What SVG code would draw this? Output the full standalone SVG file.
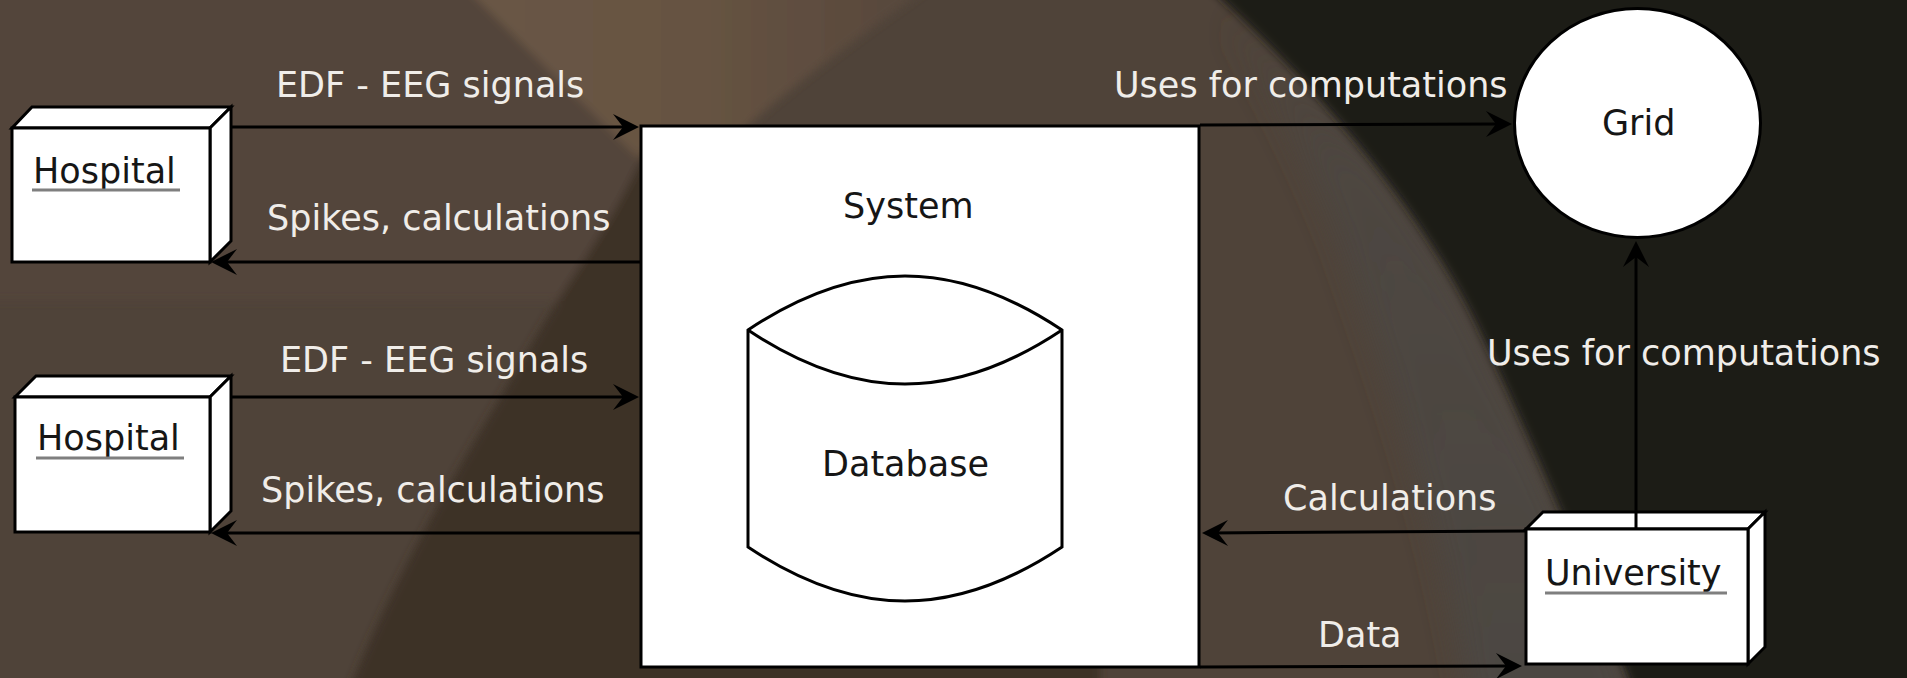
<svg xmlns="http://www.w3.org/2000/svg" width="1907" height="678" viewBox="0 0 1907 678">
  <defs>
    <style>
      .lbl { font-family: "DejaVu Sans", Verdana, sans-serif; font-size: 35px; fill: #f0ede9; }
      .nlbl { font-family: "DejaVu Sans", Verdana, sans-serif; font-size: 35px; fill: #161616; }
      .shape { fill: #ffffff; stroke: #000000; stroke-width: 3; stroke-linejoin: miter; }
      .ul { stroke: #7f7f7f; stroke-width: 3; }
      .conn { stroke: #000000; stroke-width: 3; fill: none; marker-end: url(#arrow); }
    </style>
    <!-- barbed arrowhead; the tip sits 8px beyond the end of the line -->
    <marker id="arrow" markerUnits="userSpaceOnUse" viewBox="-20 -15 30 30" refX="0" refY="0"
            markerWidth="30" markerHeight="30" orient="auto">
      <path d="M8,0 L-18,-13 L-8,0 L-18,13 Z" fill="#000000"/>
    </marker>
    <linearGradient id="wedgeFill" x1="430" y1="0" x2="980" y2="0" gradientUnits="userSpaceOnUse">
      <stop offset="0" stop-color="#6a5746"/>
      <stop offset="0.5" stop-color="#665342"/>
      <stop offset="1" stop-color="#52443a"/>
    </linearGradient>
    <linearGradient id="bandFill" x1="0" y1="0" x2="0" y2="678" gradientUnits="userSpaceOnUse">
      <stop offset="0" stop-color="#4c4742" stop-opacity="0"/>
      <stop offset="0.25" stop-color="#4c4742" stop-opacity="0.8"/>
      <stop offset="1" stop-color="#4c4742" stop-opacity="1"/>
    </linearGradient>
    <filter id="soft" x="-20%" y="-20%" width="140%" height="140%">
      <feGaussianBlur stdDeviation="4"/>
    </filter>
    <filter id="haze" x="-30%" y="-30%" width="160%" height="160%">
      <feGaussianBlur stdDeviation="14"/>
    </filter>
  </defs>

  <!-- wallpaper backdrop -->
  <g id="backdrop">
    <rect x="0" y="0" width="1907" height="678" fill="#4f4339"/>
    <g filter="url(#soft)">
      <path d="M-60,-60 L430,-60 L650,160 L560,300 L-60,300 Z" fill="#52453b"/>
      <path d="M427,-50 L980,-50 C900,10 790,80 700,170 L650,170 Z" fill="url(#wedgeFill)"/>
      <path d="M645,150 C615,220 575,270 535,338 C470,450 400,560 345,700 L1100,700 L1100,150 Z" fill="#3d3028"/>
    </g>
    <!-- greyish sheen along the dark curve -->
    <path d="M1230,40 C1280,110 1320,190 1345,260 C1380,360 1440,520 1470,710 L1640,710 C1600,600 1540,460 1483,338 C1420,200 1330,90 1230,0 Z"
          fill="url(#bandFill)" filter="url(#haze)"/>
    <path d="M1167,-50 C1290,55 1420,200 1483,338 C1540,460 1600,600 1640,710 L1960,710 L1960,-50 Z"
          fill="#1d1b19" filter="url(#soft)"/>
  </g>

  <!-- nodes -->
  <g id="hospital-1">
    <polygon class="shape" points="12,128 32,107 231,107 210,128"/>
    <polygon class="shape" points="210,128 231,107 231,241 210,262"/>
    <rect class="shape" x="12" y="128" width="198" height="134"/>
    <text class="nlbl" x="33" y="183">Hospital</text>
    <line class="ul" x1="32" y1="190" x2="180" y2="190"/>
  </g>

  <g id="hospital-2">
    <polygon class="shape" points="15,397 36,376 231,376 210,397"/>
    <polygon class="shape" points="210,397 231,376 231,511 210,532"/>
    <rect class="shape" x="15" y="397" width="195" height="135"/>
    <text class="nlbl" x="37" y="450">Hospital</text>
    <line class="ul" x1="36" y1="458" x2="184" y2="458"/>
  </g>

  <g id="system">
    <rect class="shape" x="641" y="126" width="558" height="541"/>
    <text class="nlbl" x="843" y="218">System</text>
    <g id="database">
      <path class="shape" d="M748,330 C856,258 954,258 1062,330 L1062,547 C954,619 856,619 748,547 Z"/>
      <path d="M748,330 C856,402 954,402 1062,330" fill="none" stroke="#000000" stroke-width="3"/>
      <text class="nlbl" x="822" y="476">Database</text>
    </g>
  </g>

  <g id="grid">
    <ellipse class="shape" cx="1637.5" cy="123" rx="123" ry="114.5"/>
    <text class="nlbl" x="1602" y="135">Grid</text>
  </g>

  <g id="university">
    <polygon class="shape" points="1526,529 1543,512 1765,512 1748,529"/>
    <polygon class="shape" points="1748,529 1765,512 1765,647 1748,664"/>
    <rect class="shape" x="1526" y="529" width="222" height="135"/>
    <text class="nlbl" x="1545" y="585">University</text>
    <line class="ul" x1="1545" y1="593" x2="1727" y2="593"/>
  </g>

  <!-- connectors -->
  <g id="connectors">
    <path class="conn" d="M231,127 L631,127"/>
    <path class="conn" d="M641,262 L219,262"/>
    <path class="conn" d="M231,397 L631,397"/>
    <path class="conn" d="M641,533 L219,533"/>
    <path class="conn" d="M1200,125 L1504,124"/>
    <path class="conn" d="M1636,529 L1636,249"/>
    <path class="conn" d="M1526,531 L1210,533"/>
    <path class="conn" d="M1200,667 L1514,666"/>
  </g>

  <!-- connector labels -->
  <g id="labels">
    <text class="lbl" x="276" y="97">EDF - EEG signals</text>
    <text class="lbl" x="267" y="230">Spikes, calculations</text>
    <text class="lbl" x="280" y="372">EDF - EEG signals</text>
    <text class="lbl" x="261" y="502">Spikes, calculations</text>
    <text class="lbl" x="1114" y="97">Uses for computations</text>
    <text class="lbl" x="1487" y="365">Uses for computations</text>
    <text class="lbl" x="1283" y="510">Calculations</text>
    <text class="lbl" x="1318" y="647">Data</text>
  </g>
</svg>
